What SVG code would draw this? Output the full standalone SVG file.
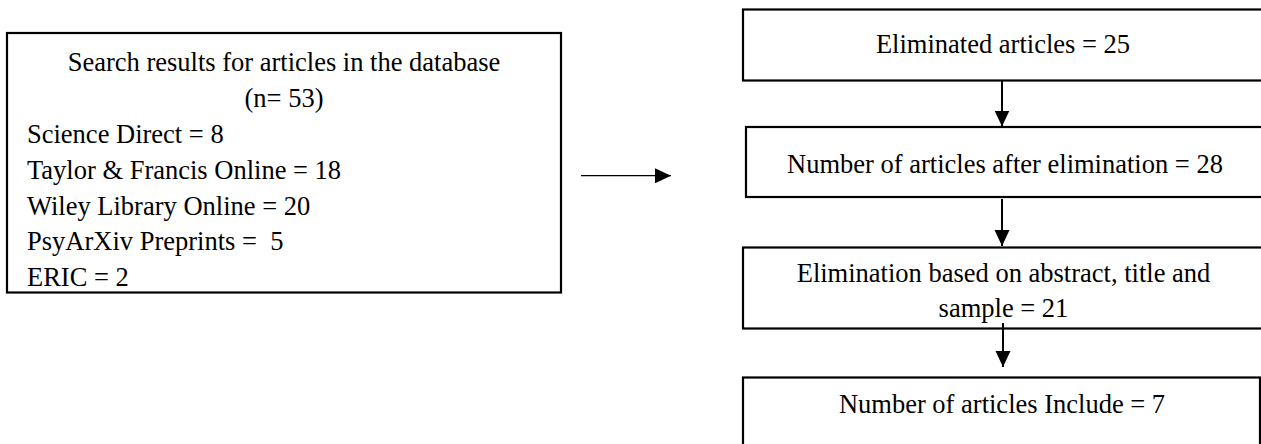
<svg xmlns="http://www.w3.org/2000/svg" width="1261" height="444" viewBox="0 0 1261 444">
<style>
.box{fill:#fff;stroke:#000;stroke-width:2.2}
.t{font-family:"Liberation Serif","Times New Roman",serif;font-size:26.5px;fill:#000}
.c{text-anchor:middle}
.conn{stroke:#000;fill:none}
</style>
<defs>
<marker id="ah" markerUnits="userSpaceOnUse" markerWidth="16" markerHeight="16" refX="16" refY="8" orient="auto" viewBox="0 0 16 16">
<path d="M0,0.5 L16,8 L0,15.5 z" fill="#000"/>
</marker>
</defs>
<rect width="1261" height="444" fill="#fff"/>
<g id="search">
<rect class="box" x="7" y="33" width="554" height="259.5"/>
<text class="t c" x="284" y="71">Search results for articles in the database</text>
<text class="t c" x="284" y="107">(n= 53)</text>
<text class="t" x="27" y="143">Science Direct = 8</text>
<text class="t" x="27" y="179">Taylor &amp; Francis Online = 18</text>
<text class="t" x="27" y="214.5">Wiley Library Online = 20</text>
<text class="t" x="27" y="250" xml:space="preserve">PsyArXiv Preprints =  5</text>
<text class="t" x="27" y="286">ERIC = 2</text>
</g>
<g id="eliminated">
<rect class="box" x="743" y="9.5" width="540" height="71"/>
<text class="t c" x="1003" y="53">Eliminated articles = 25</text>
</g>
<g id="after">
<rect class="box" x="746" y="127" width="540" height="70"/>
<text class="t c" x="1005" y="173">Number of articles after elimination = 28</text>
</g>
<g id="abstract">
<rect class="box" x="743" y="247.5" width="540" height="81"/>
<text class="t c" x="1003.5" y="282">Elimination based on abstract, title and</text>
<text class="t c" x="1003.5" y="317">sample = 21</text>
</g>
<g id="include">
<rect class="box" x="743" y="377.5" width="517" height="90"/>
<text class="t c" x="1002" y="413">Number of articles Include = 7</text>
</g>
<g id="connectors">
<line class="conn" x1="1002" y1="81" x2="1002" y2="126.5" stroke-width="2" marker-end="url(#ah)"/>
<line class="conn" x1="1002" y1="199" x2="1002" y2="246" stroke-width="2" marker-end="url(#ah)"/>
<line class="conn" x1="1003" y1="323" x2="1003" y2="367" stroke-width="2" marker-end="url(#ah)"/>
<line class="conn" x1="581" y1="175.7" x2="671" y2="175.7" stroke-width="1.3" marker-end="url(#ah)"/>
</g>
</svg>
